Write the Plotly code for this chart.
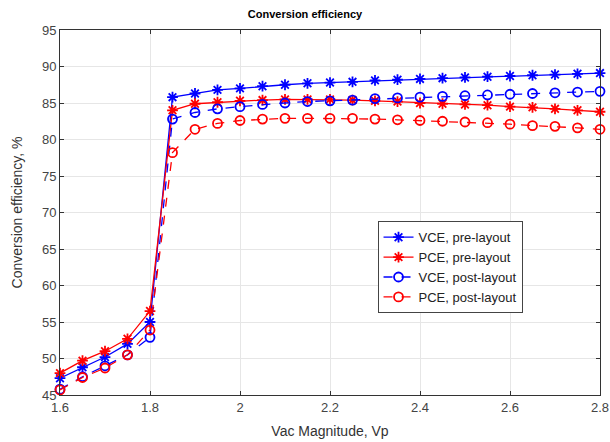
import plotly.graph_objects as go

x_vals = [1.6, 1.65, 1.7, 1.75, 1.8, 1.85, 1.9, 1.95, 2.0, 2.05, 2.1, 2.15, 2.2, 2.25,
          2.3, 2.35, 2.4, 2.45, 2.5, 2.55, 2.6, 2.65, 2.7, 2.75, 2.8]

vce_pre = [47.3, 48.8, 50.2, 52.0, 55.0, 85.8, 86.3, 86.8, 87.0, 87.3, 87.5, 87.7, 87.8, 87.9,
           88.1, 88.2, 88.3, 88.4, 88.5, 88.6, 88.7, 88.8, 88.9, 89.0, 89.1]
pce_pre = [48.0, 49.7, 51.0, 52.7, 56.5, 84.0, 84.9, 85.1, 85.3, 85.4, 85.5, 85.5, 85.5, 85.4,
           85.3, 85.2, 85.0, 84.9, 84.8, 84.7, 84.5, 84.4, 84.2, 84.0, 83.8]
vce_post = [45.8, 47.5, 49.0, 50.5, 52.9, 82.8, 83.7, 84.2, 84.5, 84.8, 85.0, 85.2, 85.3, 85.4,
            85.6, 85.7, 85.8, 85.9, 86.0, 86.1, 86.2, 86.3, 86.4, 86.5, 86.6]
pce_post = [45.7, 47.4, 48.7, 50.5, 53.9, 78.2, 81.4, 82.2, 82.6, 82.8, 82.9, 82.9, 82.9, 82.9,
            82.8, 82.7, 82.6, 82.5, 82.4, 82.3, 82.1, 81.9, 81.8, 81.6, 81.4]

names = ["VCE, pre-layout", "PCE, pre-layout", "VCE, post-layout", "PCE, post-layout"]
x_ticks = [1.6, 1.8, 2.0, 2.2, 2.4, 2.6, 2.8]
x_tick_labels = ["1.6", "1.8", "2", "2.2", "2.4", "2.6", "2.8"]
y_ticks = [45, 50, 55, 60, 65, 70, 75, 80, 85, 90, 95]

BLUE = "#0000ff"
RED = "#ff0000"
FONT = "Liberation Sans, Arial, sans-serif"

fig = go.Figure()
series = [
    (vce_pre, names[0], BLUE, "solid", "asterisk-open"),
    (pce_pre, names[1], RED, "solid", "asterisk-open"),
    (vce_post, names[2], BLUE, "dash", "circle-open"),
    (pce_post, names[3], RED, "dash", "circle-open"),
]
for ys, nm, col, dash, sym in series:
    fig.add_trace(go.Scatter(
        x=x_vals, y=ys, name=nm, mode="lines+markers",
        line=dict(color=col, width=1.3, dash=dash),
        marker=dict(symbol=sym, size=9,
                    color=col, line=dict(color=col, width=1.8)),
        cliponaxis=False,
    ))

axis_common = dict(
    showgrid=True, gridcolor="#e6e6e6", gridwidth=1,
    showline=True, linecolor="#333333", linewidth=1, mirror="ticks",
    ticks="inside", ticklen=4, tickcolor="#333333",
    zeroline=False, automargin=False,
    tickfont=dict(family=FONT, size=13, color="#444444"),
)

fig.update_layout(
    width=610, height=442,
    margin=dict(l=60, r=10, t=30, b=47),
    paper_bgcolor="white", plot_bgcolor="white",
    title=dict(text="<b>Conversion efficiency</b>", x=0.5, xanchor="center",
               y=0.968, yanchor="middle",
               font=dict(family=FONT, size=11, color="#000000")),
    xaxis=dict(range=[1.6, 2.8], tickvals=x_ticks, ticktext=x_tick_labels,
               ticklabeloverflow="allow",
               title=dict(text="Vac Magnitude, Vp", standoff=12,
                          font=dict(family=FONT, size=14, color="#333333")),
               **axis_common),
    yaxis=dict(range=[45, 95], tickvals=y_ticks,
               ticklabeloverflow="allow",
               title=dict(text="Conversion efficiency, %", standoff=16,
                          font=dict(family=FONT, size=14, color="#333333")),
               **axis_common),
    legend=dict(x=0.588, y=0.476, xanchor="left", yanchor="top",
                bgcolor="white", bordercolor="#444444", borderwidth=1,
                font=dict(family=FONT, size=13, color="#222222"),
                tracegroupgap=0, itemwidth=30),
    showlegend=True,
)

fig.write_html("out.html")
